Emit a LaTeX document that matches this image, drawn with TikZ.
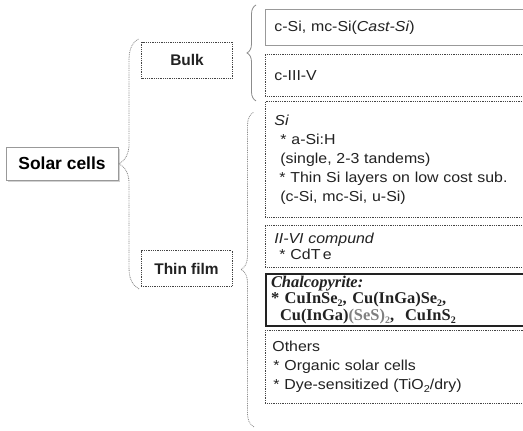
\documentclass[tikz,border=0pt]{standalone}
\usepackage{fontspec}
\setmainfont{Liberation Sans}
\newfontfamily\boxfont{Liberation Sans}[FakeStretch=1.1]
\newfontfamily\timesfont{Liberation Serif}
\usetikzlibrary{decorations.pathreplacing,calc,shadows}
\newcommand\mysub[1]{\raisebox{-0.35ex}{\fontsize{10}{10}\selectfont #1}}
\definecolor{ink}{HTML}{222222}
\definecolor{edge}{HTML}{444444}
\begin{document}
\begin{tikzpicture}[x=1bp,y=-1bp,
  finedots/.style={dash pattern=on 0.9bp off 0.9bp},
  rootbox/.style={draw=gray!80, fill=white, line width=0.8bp, inner sep=0pt,
    minimum width=112bp, minimum height=33bp, text=black,
    font=\fontsize{17.5}{20}\selectfont\bfseries,
    drop shadow={shadow xshift=2bp, shadow yshift=-2bp, fill=gray!35, opacity=1}},
  catbox/.style={draw=edge, finedots, line width=0.9bp, inner sep=0pt,
    minimum width=91bp, minimum height=36bp, text=ink,
    font=\fontsize{15.5}{18}\selectfont\bfseries},
  itembox/.style={draw=edge, finedots, line width=0.9bp, anchor=north west,
    inner xsep=9bp, inner ysep=0pt, text width=280bp, align=left, text=ink,
    font=\boxfont\fontsize{14.5}{19}\selectfont},
  bracelink/.style={decorate, draw=gray!90, line width=0.8bp}
]
\clip (0,0) rectangle (523,430);
\fill[white] (0,0) rectangle (523,430);

% left column
\node[rootbox] (root) at (62,163.5) {Solar cells};
\node[catbox] (bulk) at (187,60) {Bulk};
\node[catbox] (thin) at (186.5,268.5) {Thin film};

% right column
\node[itembox, draw=gray!80, solid, minimum height=36bp] (b1) at (265,9)
  {c-Si, mc-Si(\textit{Cast-Si})};
\node[itembox, minimum height=42bp] (b2) at (265,54) {c-III-V};
\node[itembox, minimum height=116bp] (b3) at (265,101)
  {\textit{Si}\\
   \hspace*{6bp}* a-Si:H\\
   \hspace*{6bp}(single, 2-3 tandems)\\
   \hspace*{5bp}* Thin Si layers on low cost sub.\\
   \hspace*{6bp}(c-Si, mc-Si, u-Si)};
\node[itembox, minimum height=42bp, font=\boxfont\fontsize{14.5}{16}\selectfont] (b4) at (265,225)
  {\textit{II-VI compund}\\
   \hspace*{5bp}* CdT\,e};
\node[itembox, draw=ink, solid, line width=2bp, minimum height=52bp, inner xsep=5bp,
  font=\timesfont\fontsize{16.5}{17}\selectfont\bfseries] (b5) at (265,273)
  {\textit{Chalcopyrite:}\\
   \relax * CuInSe\mysub{2}, Cu(InGa)Se\mysub{2},\\
   \hspace*{9bp}Cu(InGa){\color{gray}(SeS)\mysub{2}},\ \ CuInS\mysub{2}};
\node[itembox, minimum height=73bp, inner xsep=7bp] (b6) at (265,330)
  {Others\\
   \hspace*{1bp}* Organic solar cells\\
   \hspace*{1bp}* Dye-sensitized (TiO\mysub{2}/dry)};

% braces
\draw[bracelink, finedots, decoration={brace, amplitude=20bp}]
  ($(bulk.north west |- thin.south)+(-2,2)$) -- ($(bulk.north west)+(-2,-3)$);
\draw[bracelink, decoration={brace, amplitude=9bp}]
  ($(b2.south west)+(-9,4)$) -- ($(b1.north west)+(-9,-4)$);
\draw[bracelink, finedots, decoration={brace, amplitude=13bp}]
  ($(b6.south west)+(-11,23)$) -- ($(b3.north west)+(-11,11)$);
\end{tikzpicture}
\end{document}
